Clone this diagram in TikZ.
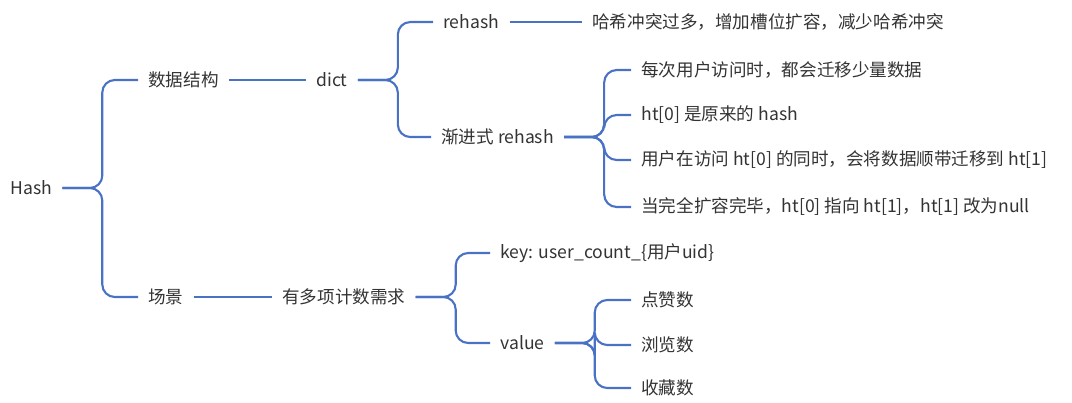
\documentclass[tikz,border=0pt]{standalone}
\usepackage{fontspec}
\setmainfont{Noto Sans CJK SC}
\usetikzlibrary{positioning}
\definecolor{linkblue}{HTML}{4A72C4}
\definecolor{txtgray}{HTML}{333333}
\tikzset{
  topic/.style={anchor=west, inner xsep=0.2cm, inner ysep=2pt, text=txtgray,
    font=\fontsize{10}{12}\selectfont},
  link/.style={draw=linkblue, line width=1.2pt, rounded corners=0.25cm}
}
\begin{document}
\begin{tikzpicture}
  \useasboundingbox (0,0) rectangle (21.44,-8.04);
  % level 0 and 1
  \node[topic] (hash) at (0.0,-3.76) {Hash};
  \node[topic] (struct) at (2.76,-1.60) {数据结构};
  \node[topic] (scene) at (2.76,-5.94) {场景};
  % data structure branch
  \node[topic] (dict) at (6.12,-1.60) {dict};
  \node[topic] (rehash) at (8.66,-0.44) {rehash};
  \node[topic] (conflict) at (11.64,-0.44) {哈希冲突过多，增加槽位扩容，减少哈希冲突};
  \node[topic] (prog) at (8.62,-2.74) {渐进式 rehash};
  \node[topic] (stepa) at (12.62,-1.40) {每次用户访问时，都会迁移少量数据};
  \node[topic] (stepb) at (12.62,-2.30) {ht[0] 是原来的 hash};
  \node[topic] (stepc) at (12.62,-3.20) {用户在访问 ht[0] 的同时，会将数据顺带迁移到 ht[1]};
  \node[topic] (stepd) at (12.62,-4.14) {当完全扩容完毕，ht[0] 指向 ht[1]，ht[1] 改为null};
  % scene branch
  \node[topic] (count) at (5.44,-5.94) {有多项计数需求};
  \node[topic] (key) at (9.80,-5.06) {key: user\_count\_\{用户uid\}};
  \node[topic] (value) at (9.80,-6.86) {value};
  \node[topic] (like) at (12.62,-6.00) {点赞数};
  \node[topic] (view) at (12.62,-6.90) {浏览数};
  \node[topic] (fav) at (12.62,-7.76) {收藏数};

  % connectors
  \draw[link] (hash.east) -- ++(0.8,0) |- (struct.west);
  \draw[link] (hash.east) -- ++(0.8,0) |- (scene.west);
  \draw[link] (struct.east) -- (dict.west);
  \draw[link] (dict.east) -- ++(0.8,0) |- (rehash.west);
  \draw[link] (dict.east) -- ++(0.8,0) |- (prog.west);
  \draw[link] (rehash.east) -- (conflict.west);
  \foreach \s in {stepa,stepb,stepc,stepd}
    \draw[link] (prog.east) -- ++(0.8,0) |- (\s.west);
  \draw[link] (scene.east) -- (count.west);
  \draw[link] (count.east) -- ++(0.8,0) |- (key.west);
  \draw[link] (count.east) -- ++(0.8,0) |- (value.west);
  \foreach \s in {like,view,fav}
    \draw[link] (value.east) -- ++(0.8,0) |- (\s.west);
\end{tikzpicture}
\end{document}
